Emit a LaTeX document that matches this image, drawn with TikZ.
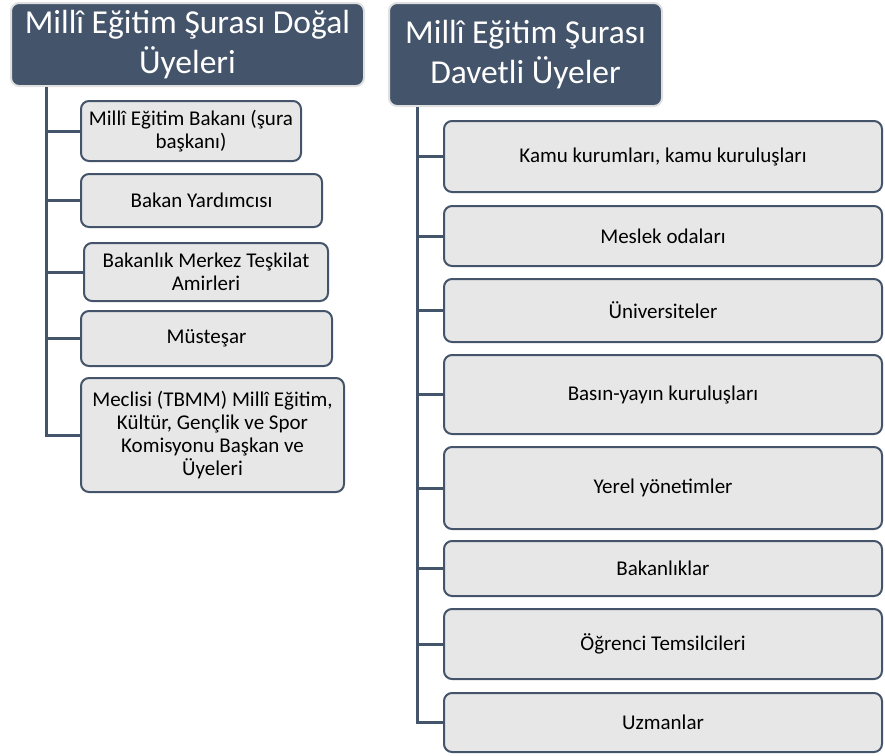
\documentclass[tikz,border=0pt]{standalone}
\usepackage{fontspec}
\setmainfont{Carlito}
\definecolor{slate}{RGB}{68, 84, 106}
\definecolor{cloud}{RGB}{231, 231, 231}
\definecolor{frost}{RGB}{224, 224, 224}
\tikzset{
  header/.style={draw=frost, fill=slate, line width=2pt, rounded corners=8pt, text=white,
                 align=center, inner sep=0pt, font=\fontsize{33.5}{40}\selectfont},
  member/.style={draw=slate, fill=cloud, line width=2pt, rounded corners=8pt,
                 align=center, inner sep=0pt, font=\fontsize{21}{23}\selectfont},
  trunk/.style={draw=slate, line width=3pt},
}
\begin{document}
\begin{tikzpicture}[x=1pt, y=-1pt]
            \useasboundingbox (0,0) rectangle (885,755);
            % Doğal üyeler
            \node[header, minimum width=353pt, minimum height=83pt] (dogal) at (187.5, 44.5) {Millî Eğitim Şurası Doğal\\Üyeleri};
            \node[member, minimum width=220pt, minimum height=60pt]  (bakan)   at (191.0, 131.0) {Millî Eğitim Bakanı (şura\\başkanı)};
            \node[member, minimum width=241pt, minimum height=53pt]  (yard)    at (201.5, 200.5) {Bakan Yardımcısı};
            \node[member, minimum width=244pt, minimum height=58pt]  (amir)    at (206.0, 272.0) {Bakanlık Merkez Teşkilat\\Amirleri};
            \node[member, minimum width=251pt, minimum height=55pt]  (mustesar) at (206.5, 338.5) {Müsteşar};
            \node[member, minimum width=263pt, minimum height=114pt] (meclis)  at (212.5, 435.0) {Meclisi (TBMM) Millî Eğitim,\\Kültür, Gençlik ve Spor\\Komisyonu Başkan ve\\Üyeleri};
            % Davetli üyeler
            \node[header, minimum width=273pt, minimum height=103pt] (davetli) at (525.5, 54.5) {Millî Eğitim Şurası\\Davetli Üyeler};
            \node[member, minimum width=438pt, minimum height=71pt] (kamu)    at (663, 156.5) {Kamu kurumları, kamu kuruluşları};
            \node[member, minimum width=438pt, minimum height=60pt] (meslek)  at (663, 236.0) {Meslek odaları};
            \node[member, minimum width=438pt, minimum height=63pt] (univ)    at (663, 310.5) {Üniversiteler};
            \node[member, minimum width=438pt, minimum height=79pt] (basin)   at (663, 394.5) {Basın-yayın kuruluşları};
            \node[member, minimum width=438pt, minimum height=82pt] (yerel)   at (663, 488.0) {Yerel yönetimler};
            \node[member, minimum width=438pt, minimum height=55pt] (bakanlik) at (663, 568.5) {Bakanlıklar};
            \node[member, minimum width=438pt, minimum height=70pt] (ogrenci) at (663, 644.0) {Öğrenci Temsilcileri};
            \node[member, minimum width=438pt, minimum height=59pt] (uzman)   at (663, 722.5) {Uzmanlar};
            % gövde çizgileri
            \coordinate (ltop) at (46, 87);
            \coordinate (rtop) at (417, 107);
            \draw[trunk] (ltop) |- (meclis.west);
            \foreach \uye in {bakan, yard, amir, mustesar}
                \draw[trunk] (ltop |- \uye.west) -- (\uye.west);
            \draw[trunk] (rtop) |- (uzman.west);
            \foreach \uye in {kamu, meslek, univ, basin, yerel, bakanlik, ogrenci}
                \draw[trunk] (rtop |- \uye.west) -- (\uye.west);
        \end{tikzpicture}
\end{document}
